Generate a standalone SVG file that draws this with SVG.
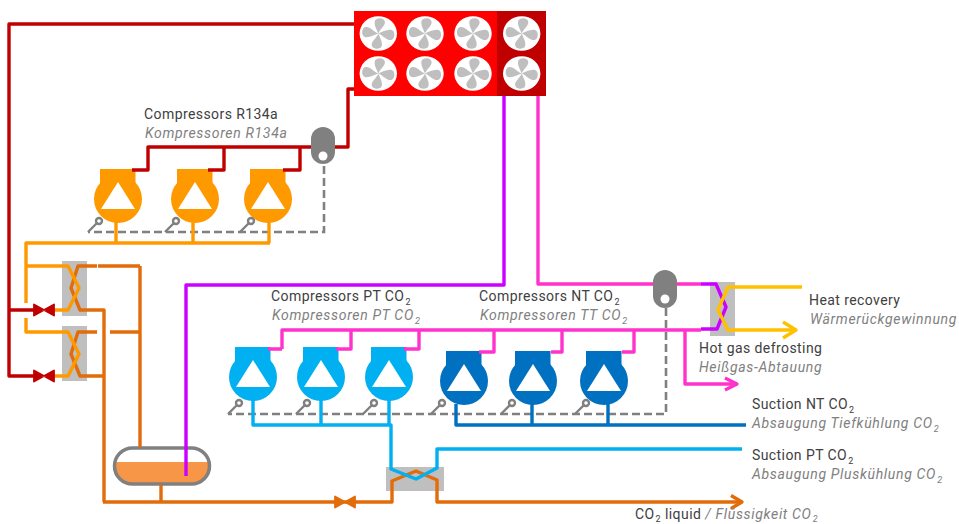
<svg xmlns="http://www.w3.org/2000/svg" xmlns:xlink="http://www.w3.org/1999/xlink" width="959" height="524" viewBox="0 0 959 524">
<style>
.l{fill:none;stroke-width:3.4;stroke-linejoin:round}
.red{stroke:#c00000}.or{stroke:#ff9900}.do{stroke:#e36c0a}.bl{stroke:#00b0f0}.db{stroke:#0070c0}.pk{stroke:#ff33cc}.mg{stroke:#cc00ff}.ye{stroke:#ffc000}
.dash{fill:none;stroke:#808080;stroke-width:2.6;stroke-dasharray:8 4}
.hx{fill:#bfbfbf}
.t{font-family:Roboto,"Liberation Sans",sans-serif;font-size:14px;letter-spacing:.42px;fill:#404040}
.i{font-family:Roboto,"Liberation Sans",sans-serif;font-size:14px;letter-spacing:.68px;fill:#808080;font-style:italic}
.s{font-size:9px}
.sn{fill:#fff;stroke:#808080;stroke-width:2.4}
.rc{fill:#808080}
</style>
<defs>
<g id="fan"><ellipse rx="18.7" ry="17.2" fill="#fff"/><g fill="#bfbfbf"><path id="bl" d="M0,0C-1.500,-4 -4.500,-8.500 -3.500,-12.500C-2.500,-16 5.500,-16.500 6.500,-12C7.500,-8 2,-5 0,0Z"/><path d="M0,0C4,-1.500 9,-4.500 13.500,-3.500C17,-2.500 17,5.500 13,6.500C8.500,7.500 5,2 0,0Z"/><use xlink:href="#bl" href="#bl" transform="rotate(180)"/><path d="M0,0C-4,1.500 -9,4.500 -13.500,3.500C-17,2.500 -17,-5.500 -13,-6.500C-8.500,-7.500 -5,-2 0,0Z"/></g></g>
<g id="comp"><rect x="-18" y="-30" width="35.500" height="20" fill="currentColor"/><circle r="24" fill="currentColor"/><path d="M0,-17 L17,10 L-17,10Z" fill="#fff"/></g>
<g id="sensor"><path d="M0,0L11,-11" fill="none" stroke="#808080" stroke-width="2.400"/><circle cx="11" cy="-11" r="3" class="sn"/></g>
<g id="valve"><path d="M-10,-5.500 L10,5.500 L10,-5.500 L-10,5.500Z" fill="currentColor" stroke="currentColor" stroke-width="1.800" stroke-linejoin="round"/></g>
</defs>

<g id="condenser">
<rect x="354" y="11" width="143" height="85" fill="#ff0000"/>
<rect x="497" y="11" width="49" height="85" fill="#c00000"/>
<use xlink:href="#fan" href="#fan" x="378.300" y="33.500"/><use xlink:href="#fan" href="#fan" x="425" y="33.500"/><use xlink:href="#fan" href="#fan" x="473" y="33.500"/><use xlink:href="#fan" href="#fan" x="521.700" y="33.500"/>
<use xlink:href="#fan" href="#fan" x="378.300" y="73.500"/><use xlink:href="#fan" href="#fan" x="425" y="73.500"/><use xlink:href="#fan" href="#fan" x="473" y="73.500"/><use xlink:href="#fan" href="#fan" x="521.700" y="73.500"/>
</g>

<g id="hx1"><rect class="hx" x="62" y="261" width="25" height="55"/></g>
<g id="hx2"><rect class="hx" x="62" y="326" width="25" height="55"/></g>
<g id="hx3"><rect class="hx" x="386" y="467" width="58" height="24"/></g>
<g id="hx4"><rect class="hx" x="710" y="282" width="25" height="54"/></g>

<g id="comp-r1" color="#ff9900"><use xlink:href="#comp" href="#comp" x="118" y="199"/></g>
<g id="comp-r2" color="#ff9900"><use xlink:href="#comp" href="#comp" x="195" y="199"/></g>
<g id="comp-r3" color="#ff9900"><use xlink:href="#comp" href="#comp" x="268" y="199"/></g>
<g id="comp-p1" color="#00b0f0"><use xlink:href="#comp" href="#comp" x="253" y="377"/></g>
<g id="comp-p2" color="#00b0f0"><use xlink:href="#comp" href="#comp" x="321" y="377"/></g>
<g id="comp-p3" color="#00b0f0"><use xlink:href="#comp" href="#comp" x="389" y="377"/></g>
<g id="comp-n1" color="#0070c0"><use xlink:href="#comp" href="#comp" x="464" y="381"/></g>
<g id="comp-n2" color="#0070c0"><use xlink:href="#comp" href="#comp" x="533" y="381"/></g>
<g id="comp-n3" color="#0070c0"><use xlink:href="#comp" href="#comp" x="604" y="381"/></g>

<g id="tank">
<path d="M113,462H211V466A17.500,17.500 0 0 1 193.500,483.500H130.500A17.500,17.500 0 0 1 113,466Z" fill="#f79646"/>
<rect x="114.500" y="448" width="95" height="36" rx="18" fill="none" stroke="#808080" stroke-width="3.500"/>
</g>

<g id="connectors">
<path class="l red" d="M354,24H9V376H35M9,310H35"/>
<path class="l red" d="M354,89H348V147H148V170H132M224,147V170H208M300,147V170H283"/>
<path class="dash" d="M324,166V232H88"/>
<path class="dash" d="M666,308V414H228"/>
<path class="l do" d="M97,266H78L71,288L80,310H104V502M140,266H98M140,266V447M110,332H140M97,332H78L71,354L80,376H104M161,485V502M103,502H392V481L416,471L437,480V502H739"/>
<path class="l or" d="M26,303V243H270M26,266H68L79,288L68,310H53M26,318V332H68L79,354L68,376H53M116,220V243M193,220V243M269,220V243"/>
<path class="l do" d="M731,495.500L742,502L731,508.500"/>
<path class="l bl" d="M253,400V425H391V469L416,479L437,468V449H742M321,400V425M389,400V425"/>
<path class="l db" d="M456,404V425H746M532,404V425M608,404V425"/>
<path class="l mg" d="M504,96V285H186V476"/>
<path class="l pk" d="M538,96V284H701"/>
<path class="l pk" d="M282,349H268M282,349V330H701M351,330V349H336M419,330V349H404M494,330V352H479M562,330V352H551M634,330V352H622M685,330V384H736"/>
<path class="l pk" d="M725,378L737,384L725,390"/>
<path class="l mg" d="M701,284H716L726,307L717,329H701"/>
<path class="l ye" d="M802,287H728L718,310L728,330H794"/>
<path class="l ye" d="M783,322L796,330L783,338"/>
</g>

<g id="rec1"><rect class="rc" x="311" y="127" width="24" height="37" rx="12"/><circle cx="323" cy="156" r="4.500" fill="#fff"/></g>
<g id="rec2"><rect class="rc" x="653" y="270" width="24" height="38" rx="12"/><circle cx="665" cy="299" r="4.500" fill="#fff"/></g>

<g id="valve1" color="#c00000"><use xlink:href="#valve" href="#valve" x="44" y="310"/></g>
<g id="valve2" color="#c00000"><use xlink:href="#valve" href="#valve" x="44" y="376"/></g>
<g id="valve3" color="#e36c0a"><use xlink:href="#valve" href="#valve" x="345" y="502"/></g>

<g id="sensors">
<use xlink:href="#sensor" href="#sensor" x="88" y="232"/><use xlink:href="#sensor" href="#sensor" x="165" y="232"/><use xlink:href="#sensor" href="#sensor" x="240" y="232"/>
<use xlink:href="#sensor" href="#sensor" x="228" y="414"/><use xlink:href="#sensor" href="#sensor" x="296" y="414"/><use xlink:href="#sensor" href="#sensor" x="363" y="414"/>
<use xlink:href="#sensor" href="#sensor" x="431" y="414"/><use xlink:href="#sensor" href="#sensor" x="501" y="414"/><use xlink:href="#sensor" href="#sensor" x="575" y="414"/>
</g>

<g id="labels">
<text class="t" x="144" y="119">Compressors R134a</text>
<text class="i" x="145" y="138">Kompressoren R134a</text>
<text class="t" x="271" y="301">Compressors PT CO<tspan class="s" dy="4" dx="1">2</tspan></text>
<text class="i" x="272" y="320">Kompressoren PT CO<tspan class="s" dy="4" dx="1">2</tspan></text>
<text class="t" x="479" y="301">Compressors NT CO<tspan class="s" dy="4" dx="1">2</tspan></text>
<text class="i" x="480" y="320">Kompressoren TT CO<tspan class="s" dy="4" dx="1">2</tspan></text>
<text class="t" x="809" y="305">Heat recovery</text>
<text class="i" x="810" y="324">Wärmerückgewinnung</text>
<text class="t" x="699" y="353">Hot gas defrosting</text>
<text class="i" x="699" y="372">Heißgas-Abtauung</text>
<text class="t" x="752" y="409">Suction NT CO<tspan class="s" dy="4" dx="1">2</tspan></text>
<text class="i" x="752" y="428">Absaugung Tiefkühlung CO<tspan class="s" dy="4" dx="1">2</tspan></text>
<text class="t" x="752" y="460">Suction PT CO<tspan class="s" dy="4" dx="1">2</tspan></text>
<text class="i" x="752" y="479">Absaugung Pluskühlung CO<tspan class="s" dy="4" dx="1">2</tspan></text>
<text class="t" x="635" y="519">CO<tspan class="s" dy="3" dx="1">2</tspan><tspan dy="-3"> liquid </tspan><tspan class="i">/ Flüssigkeit CO</tspan><tspan class="i s" dy="3" dx="1">2</tspan></text>
</g>
</svg>
